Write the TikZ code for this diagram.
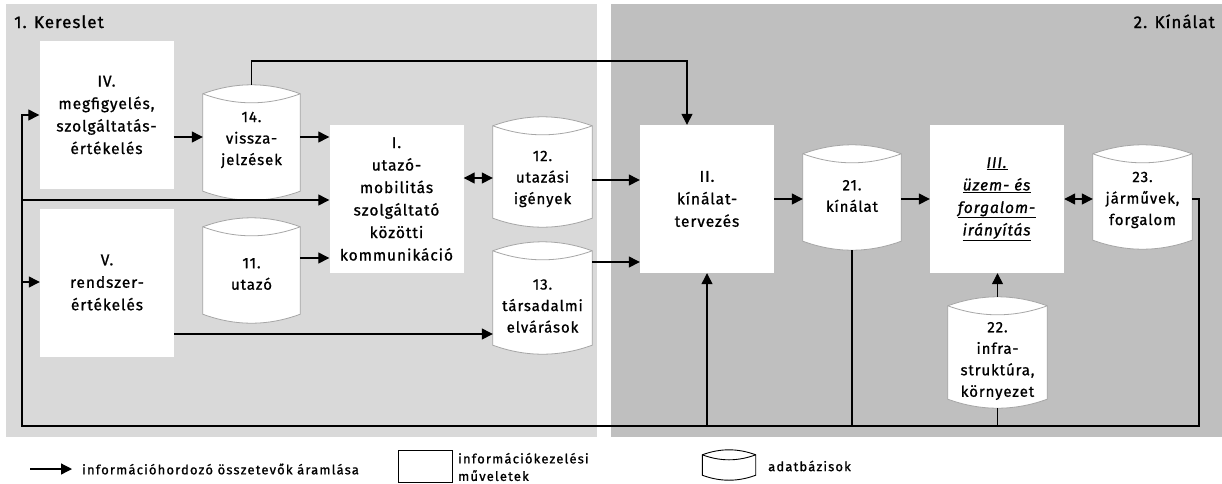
\documentclass[tikz,border=0pt]{standalone}
\usepackage{fontspec}
\setmainfont{Fira Sans}[LetterSpace=6, FakeBold=1]
\usetikzlibrary{arrows.meta,calc}
\definecolor{demand}{HTML}{D9D9D9}
\definecolor{supply}{HTML}{BFBFBF}
\definecolor{dbedge}{HTML}{A6A6A6}

\tikzset{
  proc/.style={fill=white, draw=none, minimum width=134pt, minimum height=148pt,
    inner sep=0pt, align=center, font=\fontsize{15.5}{22.5}\selectfont},
  dbbox/.style={inner sep=0pt, draw=none},
  dbtext/.style={align=center, inner sep=0pt, font=\fontsize{15}{21.5}\selectfont},
  dbline/.style={fill=white, draw=dbedge, line width=0.8pt},
  legline/.style={fill=white, draw=black, line width=0.9pt},
  flow/.style={line width=1.3pt, -{Triangle[length=11pt,width=11pt]}},
  twoway/.style={line width=1.3pt, {Triangle[length=11pt,width=11pt]}-{Triangle[length=11pt,width=11pt]}},
  wire/.style={line width=1.3pt},
  title/.style={inner sep=0pt, font=\fontsize{17}{19}\selectfont},
  legend/.style={inner sep=0pt, font=\fontsize{13}{17.5}\addfontfeatures{LetterSpace=9}\selectfont},
}

% cylinder outline on the frame of a named node: #1 style, #2 node, #3 arc bulge
\newcommand\dbshape[3][dbline]{%
  \coordinate (#2-tl) at ($(#2.north west)+(0,#3)$);
  \coordinate (#2-tr) at ($(#2.north east)+(0,#3)$);
  \coordinate (#2-bl) at ($(#2.south west)+(0,-#3)$);
  \coordinate (#2-br) at ($(#2.south east)+(0,-#3)$);
  \filldraw[#1] (#2-tl)
    .. controls ($(#2-tl)!0.333!(#2-tr)+(0,-1.333*#3)$) and ($(#2-tr)!0.333!(#2-tl)+(0,-1.333*#3)$) .. (#2-tr)
    -- (#2-br)
    .. controls ($(#2-br)!0.333!(#2-bl)+(0,1.333*#3)$) and ($(#2-bl)!0.333!(#2-br)+(0,1.333*#3)$) .. (#2-bl)
    -- cycle;
  \draw[#1, fill=none] (#2-tl)
    .. controls ($(#2-tl)!0.333!(#2-tr)+(0,1.333*#3)$) and ($(#2-tr)!0.333!(#2-tl)+(0,1.333*#3)$) .. (#2-tr);
}

\begin{document}
\begin{tikzpicture}[x=1pt,y=-1pt]
\useasboundingbox (0,0) rectangle (1222,483);
\fill[white] (0,0) rectangle (1222,483);

% the two domains
\fill[demand] (6,4) rectangle (597,437);
\fill[supply] (611,4) rectangle (1222,437);
\node[title, anchor=base west] (demandtitle) at (14,28) {1. Kereslet};
\node[title, anchor=base east] (supplytitle) at (1215,28) {2. Kínálat};

% information handling operations
\node[proc] (iv) at (106.5,115) {IV.\\megfigyelés,\\szolgáltatás-\\értékelés};
\node[proc] (v) at (107,282.5) {V.\\rendszer-\\értékelés};
\node[proc] (i) at (396.5,199) {I.\\utazó-\\mobilitás\\szolgáltató\\közötti\\kommunikáció};
\node[proc] (ii) at (707,199) {II.\\kínálat-\\tervezés};
\node[proc] (iii) at (997,199) {\underline{\textit{III.}}\\\underline{\textit{üzem- és}}\\\underline{\textit{forgalom-}}\\\underline{\textit{irányítás}}};

% databases
\node[dbbox, minimum width=97pt, minimum height=115pt] (d14) at (251.5,142.5) {};
\node[dbbox, minimum width=97pt, minimum height=105pt] (d11) at (251.5,270.5) {};
\node[dbbox, minimum width=99pt, minimum height=110pt] (d12) at (542.5,172) {};
\node[dbbox, minimum width=99pt, minimum height=112pt] (d13) at (542.5,298) {};
\node[dbbox, minimum width=98pt, minimum height=105pt] (d21) at (852,197.5) {};
\node[dbbox, minimum width=99pt, minimum height=104pt] (d23) at (1142.5,197) {};
\node[dbbox, minimum width=99pt, minimum height=111pt] (d22) at (997.5,352.5) {};
\dbshape{d14}{9}
\dbshape{d11}{9}
\dbshape{d12}{9}
\dbshape{d13}{9}
\dbshape{d21}{9}
\dbshape{d23}{9}
\dbshape{d22}{9}
\node[dbtext] (d14t) at (251.5,140) {14.\\vissza-\\jelzések};
\node[dbtext] (d11t) at (251.5,274) {11.\\utazó};
\node[dbtext] (d12t) at (542.5,179) {12.\\utazási\\igények};
\node[dbtext] (d13t) at (542.5,306) {13.\\társadalmi\\elvárások};
\node[dbtext] (d21t) at (852,196) {21.\\kínálat};
\node[dbtext] (d23t) at (1142.5,200) {23.\\járművek,\\forgalom};
\node[dbtext] (d22t) at (997.5,361) {22.\\infra-\\struktúra,\\környezet};

% routing helpers
\coordinate (jl) at (22,426);
\coordinate (jr) at (1199,426);
\coordinate (jt) at (687,61);
\coordinate (r115) at (0,115);
\coordinate (r137) at (0,137);
\coordinate (r178) at (0,178);
\coordinate (r180) at (0,180);
\coordinate (r200) at (0,200);
\coordinate (r258) at (0,258);
\coordinate (r262) at (0,262);
\coordinate (r282) at (0,282);
\coordinate (r334) at (0,334);

% flows
\draw[flow] (iv.east |- r137) -- (d14.west |- r137);
\draw[flow] (d14.east |- r137) -- (i.west |- r137);
\draw[flow] (d14.north) |- (jt) -- (jt |- ii.north);
\draw[flow] (d11.east |- r258) -- (i.west |- r258);
\draw[flow] (v.east |- r334) -- (d13.west |- r334);
\draw[twoway] (i.east |- r178) -- (d12.west |- r178);
\draw[flow] (d12.east |- r180) -- (ii.west |- r180);
\draw[flow] (d13.east |- r262) -- (ii.west |- r262);
\draw[flow] (ii.east) -- (d21.west |- ii.east);
\draw[flow] (d21.east |- iii.west) -- (iii.west);
\draw[twoway] (iii.east) -- (d23.west |- iii.east);
\draw[flow] (d22.north) -- (d22.north |- iii.south);

% feedback loop
\draw[flow, line join=miter] (d23.east |- iii.east) -| (jr) -- (jl) -- (jl |- r115) -- (iv.west |- r115);
\draw[flow] (jl |- r200) -- (i.west |- r200);
\draw[flow] (jl |- r282) -- (v.west |- r282);
\draw[wire] (d21.south) -- (d21.south |- jl);
\draw[wire] (d22.south) -- (d22.south |- jl);
\draw[flow] (ii.south |- jl) -- (ii.south);

% legend
\coordinate (la) at (30,469);
\coordinate (lb) at (72,469);
\draw[flow] (la) -- (lb);
\node[legend, anchor=west] (lt1) at (82,469) {információhordozó összetevők áramlása};
\node[draw=black, line width=0.9pt, minimum width=54pt, minimum height=32pt, inner sep=0pt] (lrect) at (425,466) {};
\node[legend, anchor=west, align=left] (lt2) at (458,467) {információkezelési\\műveletek};
\node[dbbox, minimum width=53pt, minimum height=30pt] (ldb) at (729,465) {};
\dbshape[legline]{ldb}{5}
\node[legend, anchor=west] (lt3) at (768,466) {adatbázisok};
\end{tikzpicture}
\end{document}
